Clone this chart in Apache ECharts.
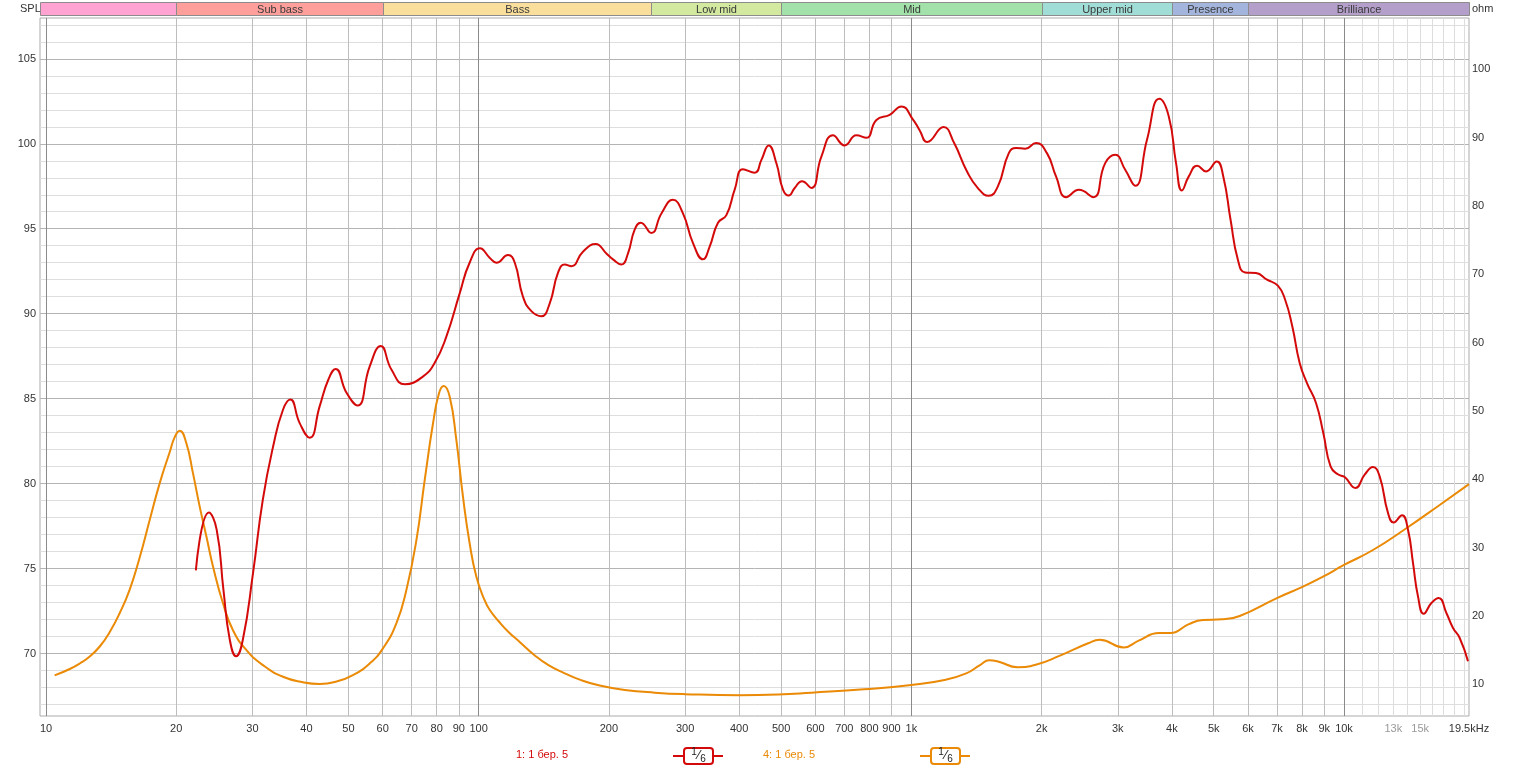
<!DOCTYPE html>
<html><head><meta charset="utf-8">
<script src="https://cdn.jsdelivr.net/npm/echarts@6/dist/echarts.min.js"></script>
<style>html,body{margin:0;padding:0;background:#fff}#c{width:1521px;height:767px}</style>
</head><body><div id="c"></div>
<script>
// ---- data ----
const splFreq = [22.2, 23.8, 24.8, 25.7, 26.6, 27.5, 28.5, 30.1, 31.7, 33.5, 35.3, 36.7, 38.6, 40.7, 42.9, 44.9, 46.7, 49.5, 52.5, 56.0, 59.4, 62.9, 67.5, 74.3, 79.1, 84.2, 90.4, 95.3, 100.7, 106, 109.9, 116.9, 121.2, 126.6, 132.4, 139.6, 145.9, 152.5, 158.1, 163.8, 174.2, 186.4, 197.3, 204.4, 213.8, 221.4, 229.4, 236.9, 250.7, 264.5, 281.2, 296.6, 312.9, 329.9, 341.9, 357.4, 373.7, 390.6, 408.2, 434.5, 450.3, 468.1, 487.7, 505.1, 520.7, 537.6, 558.8, 587.5, 619.6, 659, 701.3, 746.3, 787, 830.4, 891.2, 948.3, 1010, 1045, 1088, 1187, 1256, 1345, 1425, 1510, 1585, 1680, 1746, 1833, 1942, 2058, 2160, 2280, 2441, 2633, 2806, 2960, 3121, 3293, 3505, 3743, 3936, 4091, 4220, 4378, 4577, 4801, 5080, 5260, 5468, 5685, 5908, 6262, 6637, 7033, 7311, 7596, 7899, 8212, 8616, 8957, 9310, 9681, 10036, 10625, 11163, 11667, 12090, 12638, 13026, 13615, 14058, 14439, 14826, 15286, 15922, 16553, 17245, 17862, 18510, 19346];
const splDb = [74.9, 78.3, 77.3, 73.8, 70.8, 69.85, 70.8, 74.75, 79.05, 82.2, 84.35, 84.95, 83.55, 82.7, 84.55, 86.1, 86.75, 85.35, 84.6, 86.9, 88.1, 86.7, 85.85, 86.3, 87.1, 88.65, 91.2, 93.0, 93.85, 93.3, 93.0, 93.45, 93.0, 91.0, 90.15, 89.85, 90.6, 92.4, 92.9, 92.8, 93.65, 94.1, 93.55, 93.2, 92.9, 93.55, 94.95, 95.35, 94.75, 95.9, 96.7, 95.9, 94.15, 93.2, 93.95, 95.35, 95.8, 97.3, 98.5, 98.3, 99.05, 99.9, 98.85, 97.3, 96.95, 97.4, 97.8, 97.4, 99.25, 100.5, 99.9, 100.5, 100.35, 101.4, 101.7, 102.2, 101.4, 100.8, 100.1, 100.98, 100.04, 98.37, 97.39, 96.94, 97.49, 99.45, 99.75, 99.71, 100.04, 99.45, 98.08, 96.86, 97.29, 96.86, 98.86, 99.35, 98.47, 97.53, 100.24, 102.65, 101.61, 98.86, 97.25, 98.08, 98.71, 98.37, 98.96, 98.08, 95.53, 93.18, 92.43, 92.39, 92.0, 91.65, 90.82, 89.25, 87.1, 85.92, 84.75, 82.98, 81.02, 80.55, 80.39, 79.75, 80.53, 80.98, 80.43, 78.28, 77.72, 78.14, 77.29, 75.33, 73.37, 72.35, 72.98, 73.28, 72.39, 71.51, 70.92, 69.55];

const impFreq = [10.47, 11.35, 11.97, 12.62, 13.31, 14.04, 14.8, 15.62, 16.47, 17.36, 18.31, 19.32, 19.85, 20.37, 21.1, 21.86, 22.66, 23.49, 24.33, 25.65, 27.05, 29.06, 31.73, 35.3, 39.26, 42.9, 46.9, 51.23, 56.0, 60.09, 64.53, 68.07, 71.8, 75.05, 78.44, 80.98, 83.03, 85.7, 88.8, 91.99, 95.33, 98.79, 103.2, 106, 111.1, 117.2, 124.4, 134.4, 145, 158.1, 171.2, 190.4, 217.5, 255.2, 299.4, 401, 492, 588, 777, 1000, 1193, 1339, 1441, 1514, 1592, 1761, 1948, 2206, 2563, 2725, 3097, 3353, 3737, 3974, 4379, 4721, 5219, 5741, 6979, 8038, 8941, 10000, 11667, 13938, 16640, 19450];
const impOhm = [11.3, 12.24, 13.04, 14.06, 15.53, 17.65, 20.4, 23.9, 28.6, 34.0, 39.4, 44.0, 46.2, 47.1, 45.3, 40.9, 36.0, 31.6, 27.2, 21.85, 17.9, 15.0, 12.8, 11.1, 10.3, 10.05, 10.4, 11.35, 13.05, 15.25, 18.9, 23.8, 31.1, 39.9, 48.2, 52.6, 53.65, 52.1, 45.75, 37.45, 30.6, 25.75, 22.3, 20.9, 19.26, 17.65, 16.2, 14.3, 12.8, 11.61, 10.68, 9.81, 9.18, 8.78, 8.56, 8.4, 8.5, 8.77, 9.26, 9.89, 10.62, 11.6, 12.8, 13.5, 13.3, 12.5, 12.9, 14.2, 16.0, 16.5, 15.4, 16.4, 17.5, 17.5, 18.8, 19.4, 19.5, 20.0, 22.58, 24.28, 25.74, 27.46, 29.65, 32.83, 36.24, 39.3];

const bandNames = ['', 'Sub bass', 'Bass', 'Low mid', 'Mid', 'Upper mid', 'Presence', 'Brilliance'];
const bandEdges = [9.686, 20, 60, 250, 500, 2000, 4000, 6000, 19450];
const bandColors = ['#ffa3d3', '#ff9f9c', '#f9df9b', '#d3e9a0', '#a2e2aa', '#a1ddd7', '#a3b5dc', '#b39fca'];

const xLabelFreqs = [10, 20, 30, 40, 50, 60, 70, 80, 90, 100, 200, 300, 400, 500, 600, 700, 800, 900, 1000, 2000, 3000, 4000, 5000, 6000, 7000, 8000, 9000, 10000, 13000, 15000, 19450];
const xLabelTexts = ['10', '20', '30', '40', '50', '60', '70', '80', '90', '100', '200', '300', '400', '500', '600', '700', '800', '900', '1k', '2k', '3k', '4k', '5k', '6k', '7k', '8k', '9k', '10k', '13k', '15k', '19.5kHz'];
const xGreyLabels = ['13k', '15k'];
const xMajorLines = [10, 100, 1000, 10000];
const xMediumLines = [20, 30, 40, 50, 60, 70, 80, 90, 200, 300, 400, 500, 600, 700, 800, 900, 2000, 3000, 4000, 5000, 6000, 7000, 8000, 9000];
const xLightLines = [11000, 12000, 13000, 14000, 15000, 16000, 17000, 18000, 19000];
const splTicks = [70, 75, 80, 85, 90, 95, 100, 105];
const splMinor = [67, 68, 69, 71, 72, 73, 74, 76, 77, 78, 79, 81, 82, 83, 84, 86, 87, 88, 89, 91, 92, 93, 94, 96, 97, 98, 99, 101, 102, 103, 104, 106, 107];
const ohmTicks = [10, 20, 30, 40, 50, 60, 70, 80, 90, 100];
const legendNames = ['1: 1 бер. 5', '4: 1 бер. 5'];

const F_MIN = 9.686, F_MAX = 19450;
const SPL_MIN = 66.33, SPL_MAX = 107.4;
const OHM_MIN = 5.36, OHM_MAX = 107.5;

// ---- chart ----
const L = Math.log10;
const FONT = '"Liberation Sans", Arial, sans-serif';
const RED = '#d40a0a', ORANGE = '#ea8a06';
const GRID0 = {left: 40, right: 52, top: 18, bottom: 51};

function lineX(gridIndex, values, color, extra) {
  return Object.assign({
    type: 'value', gridIndex, min: L(F_MIN), max: L(F_MAX),
    axisLine: {show: false},
    axisTick: {show: false, customValues: values ? values.map(L) : undefined},
    axisLabel: {show: false},
    splitLine: {show: !!values, lineStyle: {color: color, width: 1}}
  }, extra || {});
}
function labelFor(v) {
  const x = parseFloat(v);
  for (let i = 0; i < xLabelFreqs.length; i++) if (Math.abs(L(xLabelFreqs[i]) - x) < 1e-6) return xLabelTexts[i];
  return '';
}

const chart = echarts.init(document.getElementById('c'), null, {renderer: 'canvas'});
chart.setOption({
  animation: false,
  backgroundColor: '#ffffff',
  textStyle: {fontFamily: FONT},
  grid: [
    Object.assign({show: true, borderColor: '#ababab', borderWidth: 1, backgroundColor: '#fff', outerBoundsMode: 'none', containLabel: false}, GRID0),
    {left: 40, right: 52, top: 2, height: 13, outerBoundsMode: 'none', containLabel: false}
  ],
  xAxis: [
    lineX(0, xMediumLines, '#bdbdbd', {
      axisLabel: {
        show: true, customValues: xLabelFreqs.map(L), formatter: labelFor, hideOverlap: false,
        fontSize: 11, fontFamily: FONT, margin: 7,
        color: v => (xGreyLabels.indexOf(labelFor(v)) >= 0 ? '#9a9a9a' : '#333333')
      }
    }),
    lineX(0, xMajorLines, '#8a8a8a'),
    lineX(0, xLightLines, '#dddddd'),
    lineX(1, null, null, {show: false})
  ],
  yAxis: [
    {type: 'value', gridIndex: 0, position: 'left', min: SPL_MIN, max: SPL_MAX,
     axisLine: {show: false}, axisTick: {show: false, customValues: splMinor},
     axisLabel: {show: false}, splitLine: {show: true, lineStyle: {color: '#dedede', width: 1}}},
    {type: 'value', gridIndex: 0, position: 'left', min: SPL_MIN, max: SPL_MAX,
     axisLine: {show: false}, axisTick: {show: false, customValues: splTicks},
     axisLabel: {show: true, customValues: splTicks, fontSize: 11, fontFamily: FONT, color: '#333', margin: 4, hideOverlap: false},
     splitLine: {show: true, lineStyle: {color: '#b4b4b4', width: 1}}},
    {type: 'value', gridIndex: 0, position: 'right', min: OHM_MIN, max: OHM_MAX,
     axisLine: {show: false}, axisTick: {show: false, customValues: ohmTicks},
     axisLabel: {show: true, customValues: ohmTicks, fontSize: 11, fontFamily: FONT, color: '#333', margin: 3, hideOverlap: false},
     splitLine: {show: false}},
    {type: 'value', gridIndex: 1, min: 0, max: 1, show: false}
  ],
  series: [
    {
      type: 'custom', xAxisIndex: 3, yAxisIndex: 3, silent: true, clip: false,
      data: bandNames.map((n, i) => [L(bandEdges[i]), L(bandEdges[i + 1]), i]),
      renderItem: function (params, api) {
        const i = api.value(2);
        const p0 = api.coord([api.value(0), 1]);
        const p1 = api.coord([api.value(1), 0]);
        const x0 = Math.round(p0[0]) + 0.5, x1 = Math.round(p1[0]) + 0.5;
        const y0 = Math.round(p0[1]) + 0.5, y1 = Math.round(p1[1]) + 0.5;
        return {type: 'group', children: [
          {type: 'rect', shape: {x: x0, y: y0, width: x1 - x0, height: y1 - y0},
           style: {fill: bandColors[i], stroke: '#8c8c8c', lineWidth: 1}},
          {type: 'text', style: {text: bandNames[i], x: (x0 + x1) / 2, y: (y0 + y1) / 2 + 0.5,
           align: 'center', verticalAlign: 'middle', fill: '#3a3a3a', fontSize: 11, fontFamily: FONT}}
        ]};
      }
    },
    {
      name: legendNames[1], type: 'line', xAxisIndex: 0, yAxisIndex: 2,
      data: impFreq.map((f, i) => [L(f), impOhm[i]]),
      showSymbol: false, smooth: 0.5, silent: true,
      lineStyle: {color: ORANGE, width: 2}, itemStyle: {color: ORANGE}, z: 3
    },
    {
      name: legendNames[0], type: 'line', xAxisIndex: 0, yAxisIndex: 1,
      data: splFreq.map((f, i) => [L(f), splDb[i]]),
      showSymbol: false, smooth: 0.5, silent: true,
      lineStyle: {color: RED, width: 2}, itemStyle: {color: RED}, z: 4
    }
  ],
  graphic: [
    {type: 'text', left: 20, top: 3, style: {text: 'SPL', fontSize: 11, fontFamily: FONT, fill: '#333'}},
    {type: 'text', left: 1472, top: 3, style: {text: 'ohm', fontSize: 11, fontFamily: FONT, fill: '#333'}},
    // legend 1
    {type: 'text', left: 516, top: 749, style: {text: legendNames[0], fontSize: 11, fontFamily: FONT, fill: RED}},
    {type: 'line', shape: {x1: 673, y1: 756, x2: 723, y2: 756}, style: {stroke: RED, lineWidth: 2}},
    {type: 'rect', shape: {x: 684, y: 748, width: 29, height: 16, r: 3}, style: {fill: '#fff', stroke: RED, lineWidth: 2}},
    {type: 'text', x: 694, y: 752, style: {text: '1', fontSize: 10, fontFamily: FONT, fill: '#222', align: 'center', verticalAlign: 'middle'}},
    {type: 'text', x: 698.5, y: 756, style: {text: '⁄', fontSize: 12, fontFamily: '"DejaVu Sans", sans-serif', fill: '#222', align: 'center', verticalAlign: 'middle'}},
    {type: 'text', x: 703, y: 759, style: {text: '6', fontSize: 10, fontFamily: FONT, fill: '#222', align: 'center', verticalAlign: 'middle'}},
    // legend 2
    {type: 'text', left: 763, top: 749, style: {text: legendNames[1], fontSize: 11, fontFamily: FONT, fill: ORANGE}},
    {type: 'line', shape: {x1: 920, y1: 756, x2: 970, y2: 756}, style: {stroke: ORANGE, lineWidth: 2}},
    {type: 'rect', shape: {x: 931, y: 748, width: 29, height: 16, r: 3}, style: {fill: '#fff', stroke: ORANGE, lineWidth: 2}},
    {type: 'text', x: 941, y: 752, style: {text: '1', fontSize: 10, fontFamily: FONT, fill: '#222', align: 'center', verticalAlign: 'middle'}},
    {type: 'text', x: 945.5, y: 756, style: {text: '⁄', fontSize: 12, fontFamily: '"DejaVu Sans", sans-serif', fill: '#222', align: 'center', verticalAlign: 'middle'}},
    {type: 'text', x: 950, y: 759, style: {text: '6', fontSize: 10, fontFamily: FONT, fill: '#222', align: 'center', verticalAlign: 'middle'}}
  ]
});
</script>
</body></html>
